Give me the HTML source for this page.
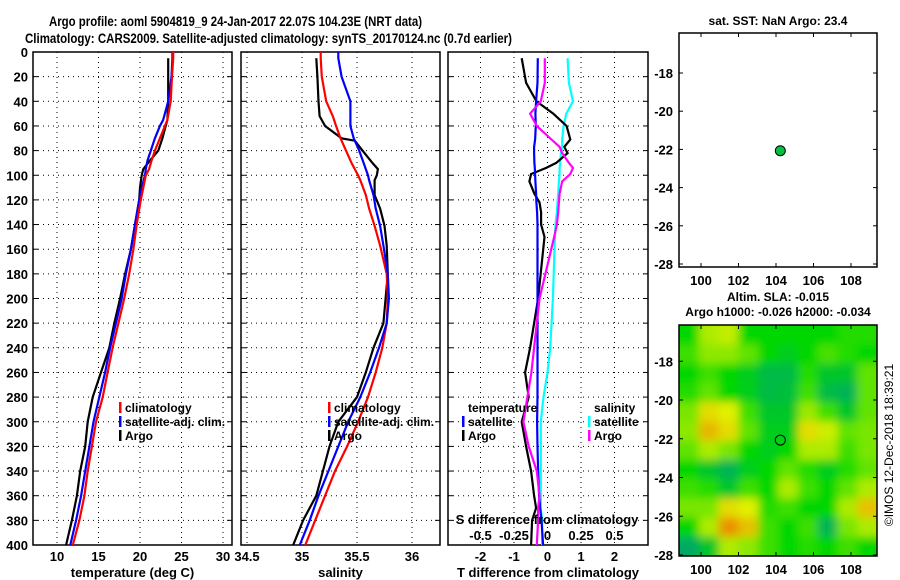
<!DOCTYPE html>
<html><head><meta charset="utf-8"><style>
html,body{margin:0;padding:0;background:#fff;}
svg{display:block;font-family:"Liberation Sans",sans-serif;font-weight:bold;}
</style></head><body>
<svg id="chart" width="900" height="580" viewBox="0 0 900 580" xmlns="http://www.w3.org/2000/svg">
<defs>
<filter id="blur" x="-10%" y="-10%" width="120%" height="120%"><feGaussianBlur stdDeviation="4.5"/></filter>
<clipPath id="mapclip"><rect x="679" y="325" width="198" height="231"/></clipPath>
</defs>
<g font-size="14">
<text x="49" y="26" textLength="373" lengthAdjust="spacingAndGlyphs">Argo profile: aoml 5904819_9 24-Jan-2017 22.07S 104.23E (NRT data)</text>
<text x="25" y="43" textLength="487" lengthAdjust="spacingAndGlyphs">Climatology: CARS2009. Satellite-adjusted climatology: synTS_20170124.nc (0.7d earlier)</text>
</g>
<g id="root"></g>
</svg>
<script>
// ---- data ----
const depthT = [0,5,20,40,55,60,70,80,88,95,100,110,120,140,160,180,200,220,240,260,280,300,320,340,360,380,400];
const tempArgo = [23.4,23.4,23.4,23.4,23.3,23.1,22.7,22.2,21.2,20.4,20.2,20.0,19.9,19.4,18.9,18.2,17.6,16.9,16.3,15.3,14.3,13.7,13.4,12.8,12.4,11.8,11.1];
const tempClim = [24.0,24.0,23.85,23.7,23.3,23.0,22.4,21.8,21.4,21.1,20.7,20.4,20.1,19.6,19.2,18.7,18.1,17.4,16.7,16.1,15.5,14.7,14.2,13.7,13.3,12.7,11.9];
const tempSat = [23.9,23.9,23.8,23.4,22.8,22.4,21.8,21.3,20.9,20.7,20.6,20.2,19.9,19.4,18.9,18.3,17.8,17.1,16.4,15.8,15.1,14.4,13.9,13.4,12.9,12.3,11.6];
const depthS = [0,5,20,40,52,60,70,72,80,90,95,100,104,116,127,141,157,180,200,220,240,260,280,300,320,340,360,380,400];
const salArgo = [35.13,35.13,35.14,35.15,35.16,35.21,35.36,35.48,35.55,35.64,35.69,35.68,35.66,35.66,35.71,35.75,35.77,35.78,35.76,35.74,35.65,35.58,35.50,35.33,35.25,35.19,35.13,35.01,34.92];
const salClim = [35.17,35.17,35.18,35.22,35.28,35.31,35.35,35.36,35.40,35.45,35.48,35.51,35.53,35.58,35.61,35.66,35.71,35.77,35.78,35.77,35.73,35.67,35.60,35.51,35.41,35.30,35.21,35.12,35.03];
const salSat = [35.33,35.33,35.36,35.44,35.44,35.44,35.47,35.48,35.52,35.56,35.58,35.60,35.61,35.65,35.67,35.71,35.74,35.78,35.79,35.77,35.70,35.62,35.53,35.42,35.33,35.24,35.15,35.07,34.98];
const depthD = [0,5,25,40,50,60,71,77,82,90,94,99,105,115,122,130,140,150,200,240,260,280,300,320,340,360,370,380,400];
const tdiffArgo = [-0.77,-0.77,-0.64,-0.33,0.17,0.57,0.68,0.50,0.60,0.26,-0.04,-0.49,-0.54,-0.39,-0.24,-0.19,-0.19,-0.09,-0.28,-0.52,-0.67,-0.56,-0.77,-0.64,-0.49,-0.40,-0.34,-0.46,-0.49];
const tdiffSat = [-0.29,-0.29,-0.30,-0.34,-0.36,-0.35,-0.37,-0.40,-0.40,-0.39,-0.38,-0.37,-0.36,-0.34,-0.33,-0.31,-0.30,-0.30,-0.30,-0.30,-0.30,-0.30,-0.31,-0.30,-0.28,-0.25,-0.22,-0.18,-0.13];
const sdiffArgo = [-0.02,-0.02,-0.02,-0.05,-0.13,-0.08,0.03,0.09,0.11,0.16,0.19,0.17,0.11,0.09,0.085,0.08,0.07,0.05,-0.06,-0.10,-0.12,-0.15,-0.18,-0.14,-0.08,-0.06,-0.07,-0.07,-0.08];
const sdiffSat = [0.15,0.15,0.16,0.19,0.14,0.12,0.11,0.11,0.10,0.095,0.09,0.09,0.085,0.08,0.075,0.07,0.06,0.055,0.04,0.02,0.0,-0.03,-0.05,-0.05,-0.05,-0.05,-0.05,-0.04,-0.04];
const depthTicks = [0,20,40,60,80,100,120,140,160,180,200,220,240,260,280,300,320,340,360,380,400];
const tempTicks = [10,15,20,25,30];
const salTicks = [34.5,35,35.5,36];
const salTickLabels = ["34.5","35","35.5","36"];
const tdTicks = [-2,-1,0,1,2];
const sdTicks = [-0.5,-0.25,0,0.25,0.5];
const sdTickLabels = ["-0.5","-0.25","0","0.25","0.5"];
const lonTicks = [100,102,104,106,108];
const latTicks = [-18,-20,-22,-24,-26,-28];
const latTicks2 = [-18,-20,-22,-24,-26,-28];
const argoLon = 104.23, argoLat = -22.07;
// SLA grid (rows north->south, cols west->east)
const slaGrid = [
[0,1.5,1.7,0,0,0,0,0,0.3,0.3],
[0.5,1.2,1.2,0.8,0,-0.3,0,0.6,0.3,0],
[0,0.5,0,-0.3,-0.8,-0.8,0.3,-0.5,-0.5,0.8],
[0.3,0.8,0,-0.3,-0.8,-0.7,0.5,-0.8,-1,0.8],
[1,2.2,2,0.5,-0.5,-0.5,1.3,0.5,-0.5,0.8],
[1.2,2.6,2.2,0.8,-0.3,-0.3,2.2,1.8,0.8,1],
[0.8,1.5,1.0,0,-0.3,0,1.5,1.5,0.5,1],
[0,-0.5,-1,-0.3,0,0.8,0.3,-0.3,0.3,0.8],
[0.5,0.3,-0.5,0.5,0,1.5,0.5,0,0.8,1.5],
[1,1,2.2,2,0.3,0.5,0,0,1.5,2.5],
[0,1.5,3,2.5,0.5,0,0.5,-1,1,1.5],
[-1.5,-0.5,1.5,1.2,0.5,0,0.3,0,0.5,0]
];

const NS='http://www.w3.org/2000/svg';
const root=document.getElementById('root');
function mk(tag,attrs,parent){const e=document.createElementNS(NS,tag);for(const k in attrs)e.setAttribute(k,attrs[k]);(parent||root).appendChild(e);return e;}
function txt(x,y,s,size,anchor,parent){const t=mk('text',{x:x,y:y,'font-size':size,'text-anchor':anchor||'start'},parent);t.textContent=s;return t;}

const Y0=52,Y1=545;
function yD(d){return Y0+(d/400)*(Y1-Y0);}
function lin(d0,d1,r0,r1){return v=>r0+(v-d0)/(d1-d0)*(r1-r0);}

const panels=[
 {name:'temperature-panel',x0:33,x1:232,sx:lin(10,30,57,223),ticks:tempTicks,labels:tempTicks.map(String),title:'temperature (deg C)'},
 {name:'salinity-panel',x0:241,x1:440,sx:lin(35,36,302,412),ticks:salTicks,labels:salTickLabels,title:'salinity'},
 {name:'difference-panel',x0:448,x1:648,sx:lin(0,1,547.5,581),ticks:tdTicks,labels:tdTicks.map(String),title:'T difference from climatology'}
];
panels.forEach((p,i)=>{
  const g=mk('g',{});
  
  
  depthTicks.forEach(d=>{ if(d>0&&d<400){ const l=mk('line',{x1:p.x0,x2:p.x1,y1:yD(d),y2:yD(d),stroke:'#000','stroke-width':1,'stroke-dasharray':'1,4'},g);  }
    mk('line',{x1:p.x0,x2:p.x0+5,y1:yD(d),y2:yD(d),stroke:'#000'},g);
    mk('line',{x1:p.x1-5,x2:p.x1,y1:yD(d),y2:yD(d),stroke:'#000'},g);
  });
  p.ticks.forEach((t,k)=>{const x=p.sx(t);
    const l=mk('line',{x1:x,x2:x,y1:Y0,y2:Y1,stroke:'#000','stroke-dasharray':'1,4'},g);
     
    const tl=txt(x,561,p.labels[k],13,'middle',g);
     
  });
  const xt=txt((p.x0+p.x1)/2,577,p.title,13,'middle',g);
   
  mk('rect',{x:p.x0,y:Y0,width:p.x1-p.x0,height:Y1-Y0,fill:'none',stroke:'#000','stroke-width':1.5},g);
  p.g=g;
});
depthTicks.forEach(d=>{const t=txt(28,yD(d)+5,String(d),13,'end');
   });

function series(g,depths,vals,sx,color,name){
  const pts=depths.map((d,i)=>sx(vals[i]).toFixed(1)+','+yD(d).toFixed(1)).join(' ');
  const pl=mk('polyline',{points:pts,fill:'none',stroke:color,'stroke-width':2.2},g);
  
  
}
const P=panels;
series(P[0].g,depthT.slice(1),tempArgo.slice(1),P[0].sx,'#000','argo-temperature-line');
series(P[0].g,depthT,tempSat,P[0].sx,'#00f','satellite-temperature-line');
series(P[0].g,depthT,tempClim,P[0].sx,'#f00','climatology-temperature-line');
series(P[1].g,depthS.slice(1),salArgo.slice(1),P[1].sx,'#000','argo-salinity-line');
series(P[1].g,depthS,salClim,P[1].sx,'#f00','climatology-salinity-line');
series(P[1].g,depthS,salSat,P[1].sx,'#00f','satellite-salinity-line');
const sdx=lin(0,0.25,547.5,581);
series(P[2].g,depthD.slice(1),sdiffSat.slice(1),sdx,'#0ff','salinity-satellite-diff-line');
series(P[2].g,depthD.slice(1),tdiffArgo.slice(1),P[2].sx,'#000','temperature-argo-diff-line');
series(P[2].g,depthD.slice(1),tdiffSat.slice(1),P[2].sx,'#00f','temperature-satellite-diff-line');
series(P[2].g,depthD.slice(1),sdiffArgo.slice(1),sdx,'#f0f','salinity-argo-diff-line');

function legend(g,x,y,items,name){
  const lg=mk('g',{},g);
  
  
  items.forEach((it,i)=>{
    if(it[1]) mk('rect',{x:x-6,y:y+i*14-10,width:2.5,height:11,fill:it[1]},lg);
    const t=txt(x,y+i*14,it[0],12,'start',lg);
     
  });
}
legend(P[0].g,125,412,[['climatology','#f00'],['satellite-adj. clim.','#00f'],['Argo','#000']],'temperature-legend');
legend(P[1].g,334,412,[['climatology','#f00'],['satellite-adj. clim.','#00f'],['Argo','#000']],'salinity-legend');
legend(P[2].g,468,412,[['temperature',null],['satellite','#00f'],['Argo','#000']],'t-diff-legend');
legend(P[2].g,594,412,[['salinity',null],['satellite','#0ff'],['Argo','#f0f']],'s-diff-legend');
const sdt=txt(547,524,'S difference from climatology',13,'middle',P[2].g);
 
sdTicks.forEach((v,k)=>{const t=txt(sdx(v),540,sdTickLabels[k],13,'middle',P[2].g);
   });

// ---- maps ----
const lonX=lin(100,108,701,851);
const latY1=lin(-18,-28,73,264);
const latY2=lin(-20,-28,400,555);
function mapFrame(g,y0,y1,latTs,latY,ticksBottom){
  lonTicks.forEach(l=>{const x=lonX(l);
    mk('line',{x1:x,x2:x,y1:y0,y2:y0+4,stroke:'#000'},g);
    mk('line',{x1:x,x2:x,y1:y1-4,y2:y1,stroke:'#000'},g);
    if(ticksBottom){const t=txt(x,y1+18,String(l),13,'middle',g);
       }
  });
  latTs.forEach(l=>{const y=latY(l);
    mk('line',{x1:679,x2:683,y1:y,y2:y,stroke:'#000'},g);
    mk('line',{x1:873,x2:877,y1:y,y2:y,stroke:'#000'},g);
    const t=txt(673,y+5,String(l),13,'end',g);
     
  });
  mk('rect',{x:679,y:y0,width:198,height:y1-y0,fill:'none',stroke:'#000','stroke-width':1.5},g);
}
const m1=mk('g',{});


const m1t=txt(778,25,'sat. SST: NaN Argo: 23.4',12,'middle',m1);
 
mapFrame(m1,33,267,latTicks,latY1,true);
const dot=mk('circle',{cx:lonX(argoLon),cy:latY1(argoLat),r:5,fill:'#00c040',stroke:'#000','stroke-width':1},m1);



const m2=mk('g',{});


const m2a=txt(778,301,'Altim. SLA: -0.015',12,'middle',m2);
 
const m2b=txt(778,316,'Argo h1000: -0.026 h2000: -0.034',12,'middle',m2);
 
function slaColor(v){
  const stops=[[-2,[0,160,110]],[-1,[0,180,85]],[0,[0,215,0]],[1,[120,230,0]],[2,[225,240,0]],[3,[235,145,0]]];
  v=Math.max(-2,Math.min(3,v));
  for(let i=0;i<stops.length-1;i++){const a=stops[i],b=stops[i+1];
    if(v<=b[0]){const f=(v-a[0])/(b[0]-a[0]);const c=a[1].map((x,j)=>Math.round(x+(b[1][j]-x)*f));return 'rgb('+c.join(',')+')';}}
  return 'rgb(235,145,0)';
}
const hc=mk('g',{'clip-path':'url(#mapclip)'},m2);
const hb=mk('g',{filter:'url(#blur)'},hc);
const nr=slaGrid.length,nc=slaGrid[0].length;
const cw=198/nc,ch=231/nr;
for(let r=-1;r<=nr;r++)for(let c=-1;c<=nc;c++){
  const rr=Math.max(0,Math.min(nr-1,r)),cc=Math.max(0,Math.min(nc-1,c));
  const cell=mk('rect',{x:679+c*cw,y:325+r*ch,width:cw+0.5,height:ch+0.5,fill:slaColor(slaGrid[rr][cc])},hb);
  
  
}
mapFrame(m2,325,556,latTicks2,latY2,true);
const ring=mk('circle',{cx:lonX(argoLon),cy:latY2(argoLat),r:5,fill:'none',stroke:'#000','stroke-width':1},m2);


const cp=txt(0,0,'©IMOS 12-Dec-2018 18:39:21',12,'middle');
cp.setAttribute('transform','translate(893,445) rotate(-90)');
cp.setAttribute('font-weight','normal');


</script>
</body></html>
